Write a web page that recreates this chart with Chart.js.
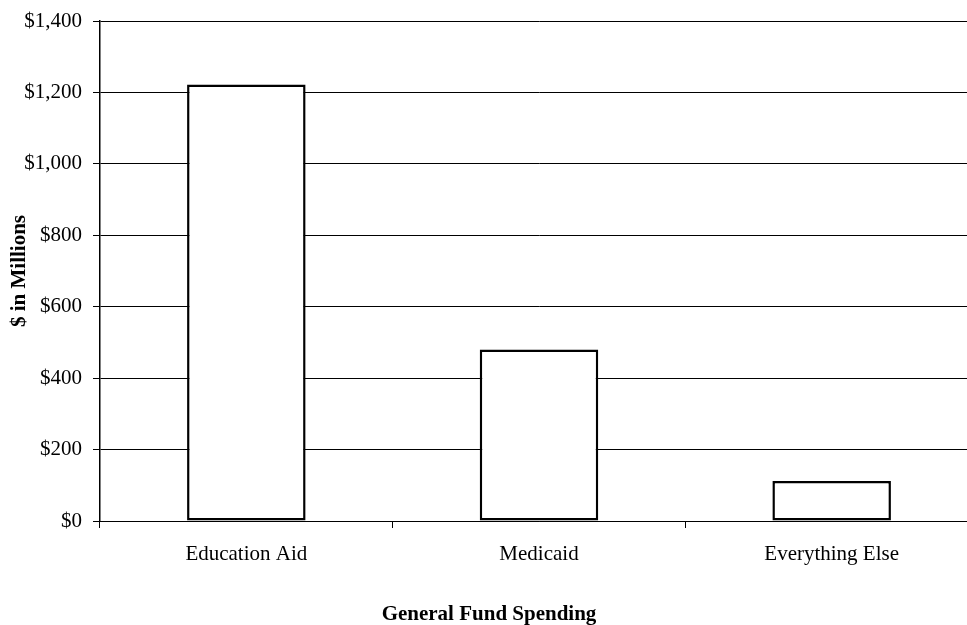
<!DOCTYPE html>
<html>
<head>
<meta charset="utf-8">
<title>General Fund Spending</title>
<script src="https://cdn.jsdelivr.net/npm/chart.js@4.4.1/dist/chart.umd.min.js"></script>
<style>
    html, body {
        margin: 0;
        padding: 0;
        background: #fff;
        overflow: hidden;
    }
    /* the original chart is a bit wider than the window, so its right edge is cut off */
    .chart-box {
        width: 996px;
        height: 625px;
    }
</style>
</head>
<body>
<div class="chart-box">
    <canvas id="spendingChart" width="996" height="625"></canvas>
</div>
<script>
// Data
const categories = ['Education Aid', 'Medicaid', 'Everything Else'];
const spending = [1222, 480, 112];
const yTicks = [0, 200, 400, 600, 800, 1000, 1200, 1400];

const yAxisTitle = '$ in Millions';
const xAxisTitle = 'General Fund Spending';

Chart.defaults.font.family = "'Liberation Serif', 'Times New Roman', serif";
Chart.defaults.font.size = 21;
Chart.defaults.color = '#000';

const ctx = document.getElementById('spendingChart');

new Chart(ctx, {
    type: 'bar',
    data: {
        labels: categories,
        datasets: [{
            label: xAxisTitle,
            data: spending,
            backgroundColor: '#fff',
            borderColor: '#000',
            borderWidth: 2.5,
            borderSkipped: false,
            barPercentage: 1,
            categoryPercentage: 0.405
        }]
    },
    options: {
        responsive: false,
        animation: false,
        devicePixelRatio: 1,
        layout: {
            padding: { top: 21, right: 18, bottom: 0, left: 0 }
        },
        plugins: {
            legend: { display: false },
            tooltip: { enabled: false },
            // x title is centred on the whole canvas, like the original
            title: {
                display: true,
                position: 'bottom',
                text: xAxisTitle,
                font: { size: 21, weight: 'bold', lineHeight: 1 },
                padding: { top: 0, bottom: 0 }
            }
        },
        scales: {
            x: {
                grid: {
                    drawOnChartArea: false,
                    drawTicks: true,
                    tickLength: 7,
                    color: '#000',
                    offset: true
                },
                border: { color: '#000', width: 1 },
                ticks: {
                    padding: 14,
                    maxRotation: 0,
                    font: { size: 21 }
                },
                afterFit: (scale) => {
                    scale.height = 83;
                }
            },
            y: {
                min: 0,
                max: yTicks[yTicks.length - 1],
                afterBuildTicks: (scale) => {
                    scale.ticks = yTicks.map(v => ({ value: v }));
                },
                grid: {
                    color: '#000',
                    lineWidth: 1,
                    tickLength: 7
                },
                border: { color: '#000', width: 1.5 },
                ticks: {
                    padding: 11,
                    // small line height so the top label does not push the plot down
                    font: { size: 21, lineHeight: 0.8 },
                    callback: (value) => '$' + Number(value).toLocaleString('en-US')
                },
                title: {
                    display: true,
                    text: yAxisTitle,
                    font: { size: 21, weight: 'bold', lineHeight: 1 },
                    padding: { top: 9, bottom: 0 }
                },
                afterFit: (scale) => {
                    scale.width = 100;
                }
            }
        }
    }
});
</script>
</body>
</html>
